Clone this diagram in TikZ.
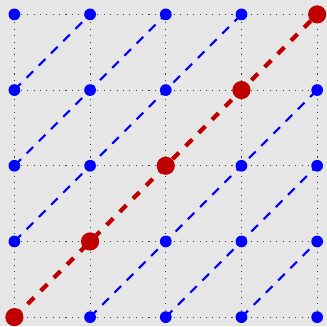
\documentclass[tikz,border=0pt]{standalone}
\usepackage{xcolor}
\usepackage{tikz}
\usetikzlibrary{positioning,calc}

\definecolor{bggray}{RGB}{230,230,230}
\definecolor{darkred}{RGB}{192,0,0}

\begin{document}
\begin{tikzpicture}[
      bluept/.style={circle,fill=blue,inner sep=0pt,minimum size=1.55mm},
      redpt/.style={circle,fill=darkred,inner sep=0pt,minimum size=2.4mm},
      diag/.style={blue,line width=0.8pt,dash pattern=on 3.5pt off 3pt},
      maindiag/.style={darkred,line width=1.6pt,dash pattern=on 3.5pt off 3.5pt}
    ]

    \fill[bggray] (-0.19,-0.12) rectangle (4.13,4.19);
    \useasboundingbox (-0.19,-0.12) rectangle (4.13,4.19);

    \draw[dotted,black!75] (0,0) grid (4,4);

    % grid points
    \foreach \i in {0,...,4}
      \foreach \j in {0,...,4}
        \coordinate (g-\i-\j) at (\i,\j);

    % diagonals
    \draw[diag] (g-0-1) -- (g-3-4);
    \draw[diag] (g-0-2) -- (g-2-4);
    \draw[diag] (g-0-3) -- (g-1-4);
    \draw[diag] (g-1-0) -- (g-4-3);
    \draw[diag] (g-2-0) -- (g-4-2);
    \draw[diag] (g-3-0) -- (g-4-1);
    \draw[maindiag] (g-0-0) -- (g-4-4);

    % dots
    \foreach \i in {0,...,4}
      \foreach \j in {0,...,4}{
        \ifnum\i=\j
          \node[redpt] (p-\i-\j) at (g-\i-\j) {};
        \else
          \node[bluept] (p-\i-\j) at (g-\i-\j) {};
        \fi
      }

  \end{tikzpicture}
\end{document}
